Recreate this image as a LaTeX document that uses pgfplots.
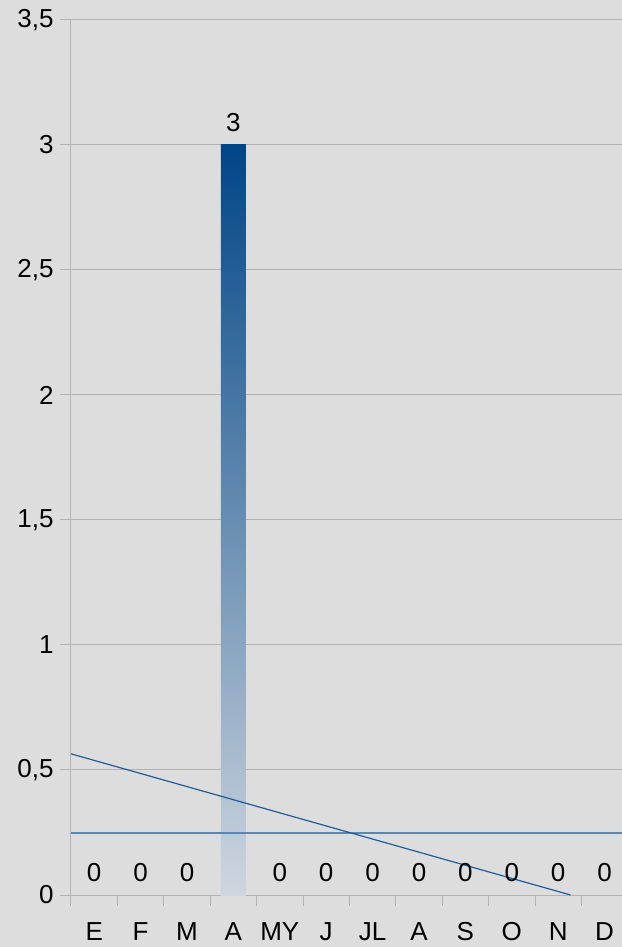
\documentclass[border=0pt]{standalone}
\usepackage{pgfplots}
\pgfplotsset{compat=1.18}
\usepackage{fontspec}
\setmainfont{Liberation Sans}
\definecolor{bg}{HTML}{DDDDDD}
\definecolor{gridc}{HTML}{B3B3B3}
\definecolor{bartop}{HTML}{004586}
\definecolor{barbot}{HTML}{CFD6DF}
\definecolor{trendc}{HTML}{1F5C99}
\definecolor{meanc}{HTML}{5A86B3}
\begin{document}
\begin{tikzpicture}
\path[use as bounding box, fill=bg] (-71bp,-52bp) rectangle (551bp,895bp);
\begin{axis}[
  at={(0,0)}, anchor=south west,
  scale only axis, width=551bp, height=875bp,
  xmin=-0.5, xmax=11.375, ymin=0, ymax=3.5,
  axis x line*=bottom, axis y line*=left,
  axis line style={draw=gridc, line width=1bp},
  ymajorgrids, grid style={draw=gridc, line width=1bp},
  tick align=outside, major tick length=11bp,
  tick style={draw=gridc, line width=1bp},
  ytick={0,0.5,...,3.5},
  xtick={-0.5,0.5,...,10.5}, xticklabels={},
  extra x ticks={0,1,...,11},
  extra x tick labels={E,F,M,A,MY,J,JL,A,S,O,N,D},
  extra x tick style={major tick length=0pt, xticklabel style={yshift=-24bp}},
  tick label style={font=\fontsize{26bp}{30bp}\selectfont},
  /pgf/number format/assume math mode=true,
  yticklabel style={xshift=-3bp, /pgf/number format/.cd, use comma, fixed, precision=1},
  clip=true,
]
\addplot[ybar, bar shift=0pt, bar width=25bp, draw=none, fill=none,
  nodes near coords,
  every node near coord/.append style={font=\fontsize{26bp}{30bp}\selectfont, anchor=south, inner sep=0pt, yshift=13bp, text=black}]
  coordinates {(0,0) (1,0) (2,0) (3,3) (4,0) (5,0) (6,0) (7,0) (8,0) (9,0) (10,0) (11,0)};
\addplot[ybar, bar shift=0pt, bar width=25bp, draw=none, top color=bartop, bottom color=barbot]
  coordinates {(3,3)};
\addplot[meanc, line width=2bp] coordinates {(-0.5,0.25) (11.375,0.25)};
\addplot[trendc, line width=1.2bp] coordinates {(-0.5,0.5647) (10.266,0)};
\end{axis}
\end{tikzpicture}
\end{document}
